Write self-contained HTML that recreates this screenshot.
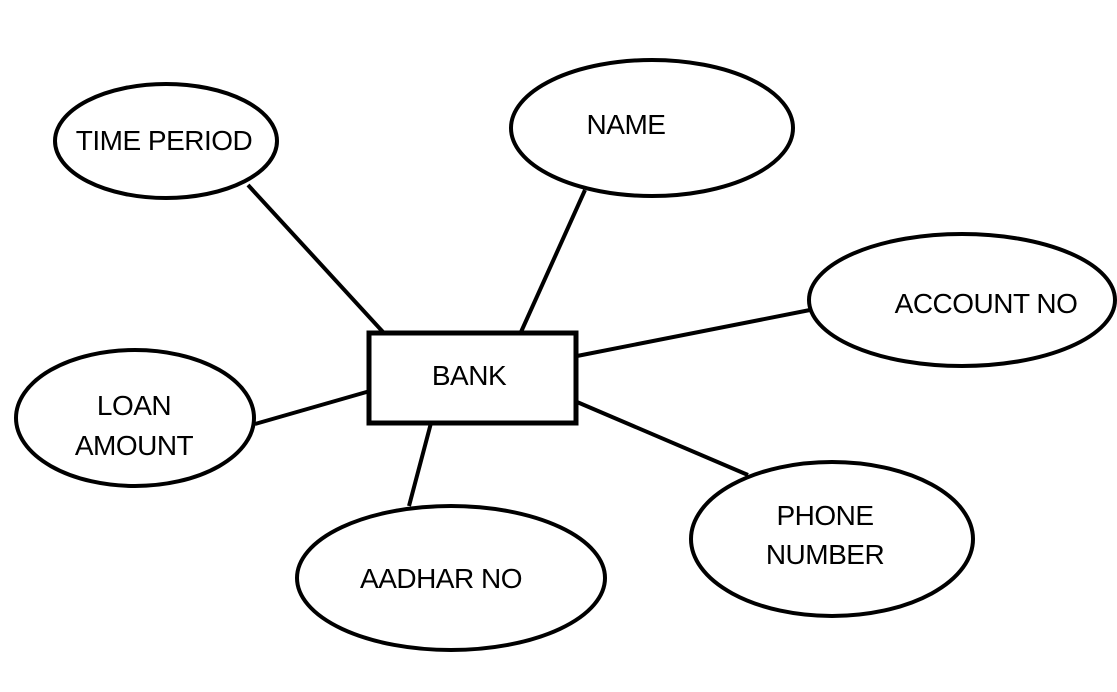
<!DOCTYPE html>
<html><head><style>html,body{margin:0;padding:0;background:#fff;}</style></head>
<body>
<svg width="1117" height="687" viewBox="0 0 1117 687" xmlns="http://www.w3.org/2000/svg" font-family="'Liberation Sans', sans-serif" font-size="28" fill="none" stroke="#000" stroke-width="4">
<line x1="248" y1="185" x2="383" y2="332"/>
<line x1="585" y1="190" x2="521" y2="332"/>
<line x1="577" y1="356" x2="810" y2="310"/>
<line x1="577" y1="402" x2="748" y2="475"/>
<line x1="431" y1="423" x2="409" y2="506"/>
<line x1="370" y1="391" x2="255" y2="424"/>
<rect x="369" y="333" width="207" height="90" stroke-width="5"/>
<ellipse cx="166" cy="141" rx="111" ry="57"/>
<ellipse cx="652" cy="128" rx="141" ry="68"/>
<ellipse cx="962" cy="300" rx="153" ry="66"/>
<ellipse cx="832" cy="539" rx="141" ry="77"/>
<ellipse cx="451" cy="578" rx="154" ry="72"/>
<ellipse cx="135" cy="418" rx="119" ry="68"/>
<g fill="#000" stroke="none" text-anchor="middle" letter-spacing="-0.5">
<text x="164" y="150">TIME PERIOD</text>
<text x="626" y="134">NAME</text>
<text x="986" y="313">ACCOUNT NO</text>
<text x="469" y="385">BANK</text>
<text x="134" y="415">LOAN</text>
<text x="134" y="455">AMOUNT</text>
<text x="825" y="525">PHONE</text>
<text x="825" y="564">NUMBER</text>
<text x="441" y="588">AADHAR NO</text>
</g>
</svg>
</body></html>
